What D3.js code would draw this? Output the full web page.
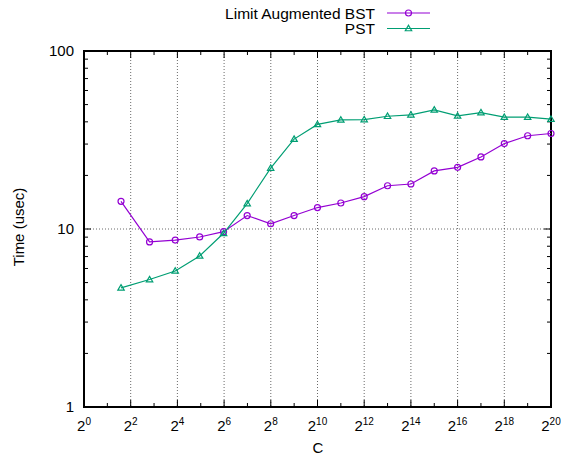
<!DOCTYPE html>
<html><head><meta charset="utf-8">
<script src="https://cdn.jsdelivr.net/npm/d3@7"></script>
<style>
body{margin:0;background:#fff;}
text{font-family:"Liberation Sans",Arial,sans-serif;fill:#000;}
</style></head>
<body>
<svg id="chart" width="561" height="455"></svg>
<script>
const seriesNames = ["Limit Augmented BST", "PST"];
const xValues = [3,7,15,31,63,127,255,511,1023,2047,4095,8191,16383,32767,65535,131071,262143,524287,1048575];
const bstValues = [14.3,8.46,8.67,9.02,9.66,11.9,10.7,11.9,13.2,14.0,15.2,17.5,17.9,21.2,22.2,25.4,30.2,33.4,34.4];
const pstValues = [4.67,5.2,5.81,7.06,9.46,13.9,22.0,32.0,38.7,41.0,41.2,43.0,43.8,46.7,43.2,45.1,42.5,42.5,41.4];
const xTickExps = [0,2,4,6,8,10,12,14,16,18,20];
const yTickValues = [1,10,100];
const colors = ["#9400d3","#009e73"];

const svg = d3.select("#chart");
const L=84, R=551, T=51, B=407;
const x = d3.scaleLog().base(2).domain([1, Math.pow(2,20)]).range([L,R]);
const y = d3.scaleLog().domain([1,100]).range([B,T]);

// grid
const g = svg.append("g");
xTickExps.filter(e=>e>0&&e<20).forEach(e=>{
  g.append("line").attr("x1",x(2**e)).attr("x2",x(2**e)).attr("y1",T).attr("y2",B)
   .attr("stroke","#444").attr("stroke-width",0.8).attr("stroke-dasharray","1,2");
});
[10].forEach(v=>{
  g.append("line").attr("x1",L).attr("x2",R).attr("y1",y(v)).attr("y2",y(v))
   .attr("stroke","#444").attr("stroke-width",0.8).attr("stroke-dasharray","1,2");
});

// ticks
const tk = svg.append("g").attr("stroke","#000").attr("stroke-width",1);
for(let e=1;e<20;e++){
  const len = e%2===0 ? 7 : 4;
  const xx = x(2**e);
  tk.append("line").attr("x1",xx).attr("x2",xx).attr("y1",B).attr("y2",B-len);
  tk.append("line").attr("x1",xx).attr("x2",xx).attr("y1",T).attr("y2",T+len);
}
const yMinor = [];
[1,10].forEach(d=>{for(let m=2;m<=9;m++) yMinor.push(d*m);});
yMinor.forEach(v=>{
  tk.append("line").attr("x1",L).attr("x2",L+4).attr("y1",y(v)).attr("y2",y(v));
  tk.append("line").attr("x1",R).attr("x2",R-4).attr("y1",y(v)).attr("y2",y(v));
});
[10].forEach(v=>{
  tk.append("line").attr("x1",L).attr("x2",L+7).attr("y1",y(v)).attr("y2",y(v));
  tk.append("line").attr("x1",R).attr("x2",R-7).attr("y1",y(v)).attr("y2",y(v));
});

// border
svg.append("rect").attr("x",L).attr("y",T).attr("width",R-L).attr("height",B-T)
  .attr("fill","none").attr("stroke","#000").attr("stroke-width",2);

// tick labels
yTickValues.forEach(v=>{
  svg.append("text").attr("x",L-10).attr("y",y(v)).attr("dy","0.36em")
    .attr("text-anchor","end").attr("font-size","15px").text(d3.format("d")(v));
});
xTickExps.forEach(e=>{
  const t = svg.append("text").attr("x",x(2**e)).attr("y",431)
    .attr("text-anchor","middle").attr("font-size","15px");
  t.append("tspan").text("2");
  t.append("tspan").attr("dy",-6.5).attr("font-size","10px").text(e);
});

// axis titles
svg.append("text").attr("x",318).attr("y",453).attr("text-anchor","middle")
  .attr("font-size","15px").text("C");
svg.append("text").attr("transform","translate(24,227) rotate(-90)")
  .attr("text-anchor","middle").attr("font-size","15px").text("Time (usec)");

// series
const allSeries = [bstValues, pstValues];
const line = d3.line().x(d=>x(d[0])).y(d=>y(d[1]));
allSeries.forEach((vals,i)=>{
  const pts = xValues.map((xv,j)=>[xv, vals[j]]);
  svg.append("path").datum(pts).attr("d",line).attr("fill","none")
    .attr("stroke",colors[i]).attr("stroke-width",1.2);
  pts.forEach(p=>{
    drawMarker(x(p[0]), y(p[1]), i);
  });
});

function drawMarker(cx,cy,i){
  if(i===0){
    svg.append("circle").attr("cx",cx).attr("cy",cy).attr("r",3)
      .attr("fill","none").attr("stroke",colors[0]).attr("stroke-width",1.2);
  } else {
    const s=3.2;
    svg.append("path").attr("d",`M${cx},${cy-s}L${cx+s},${cy+s*0.7}L${cx-s},${cy+s*0.7}Z`)
      .attr("fill","none").attr("stroke",colors[1]).attr("stroke-width",1.2);
  }
}

// legend
seriesNames.forEach((name,i)=>{
  const ly = 13 + i*15.5;
  svg.append("text").attr("x",375).attr("y",ly).attr("dy","0.36em")
    .attr("text-anchor","end").attr("font-size","15.5px").text(name);
  svg.append("line").attr("x1",387).attr("x2",430).attr("y1",ly).attr("y2",ly)
    .attr("stroke",colors[i]).attr("stroke-width",1.2);
  drawMarker(408.5, ly, i);
});
</script>
</body></html>
